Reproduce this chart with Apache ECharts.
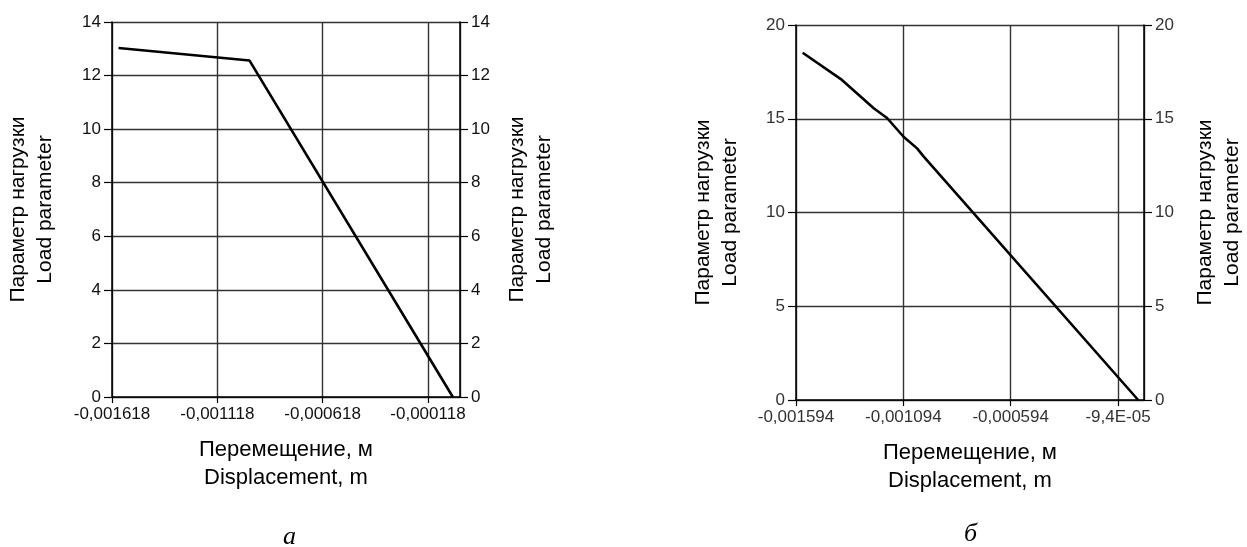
<!DOCTYPE html>
<html>
<head>
<meta charset="utf-8">
<script src="https://cdn.jsdelivr.net/npm/echarts@6/dist/echarts.min.js"></script>
<style>
html,body{margin:0;padding:0;background:#fff;}
#c{width:1247px;height:547px;}
</style>
</head>
<body>
<div id="c"></div>
<script>
// ---- data (displacement in metres, load parameter) ----
const dispA = [-0.001587, -0.000965, 0.0];
const loadA = [13.03, 12.56, 0.0];
const dispB = [-0.001563, -0.001380, -0.001232, -0.001170, -0.001093, -0.001030, -0.000999, 0.0];
const loadB = [18.52, 17.07, 15.56, 15.04, 14.04, 13.42, 12.98, 0.0];

// x ticks (in micrometres for the axis scale) and their labels
const xTickValsA = [-1618, -1118, -618, -118];
const xTickLabelsA = ['-0,001618', '-0,001118', '-0,000618', '-0,000118'];
const xTickValsB = [-1594, -1094, -594, -94];
const xTickLabelsB = ['-0,001594', '-0,001094', '-0,000594', '-9,4E-05'];

const yTicksA = [0, 2, 4, 6, 8, 10, 12, 14];
const yTicksB = [0, 5, 10, 15, 20];

const xName = 'Перемещение, м\nDisplacement, m';
const yName = 'Параметр нагрузки\nLoad parameter';
const panelLabels = ['а', 'б'];

const FONT = '"Liberation Sans", Arial, sans-serif';

function toSeries(xs, ys) {
  return xs.map((x, i) => [Math.round(x * 1e6 * 1000) / 1000, ys[i]]);
}
function fmt(vals, labels) {
  return function (v) {
    for (let i = 0; i < vals.length; i++) if (Math.abs(v - vals[i]) < 1e-6) return labels[i];
    return '';
  };
}

function xAxisCfg(grid, min, max, vals, labels, color) {
  return {
    type: 'value', gridIndex: grid, min: min, max: max, interval: 500,
    axisLine: {show: true, onZero: false, lineStyle: {color: '#000', width: 1.5}},
    axisTick: {show: true, length: 6, lineStyle: {color: '#000', width: 1.2}},
    axisLabel: {show: true, margin: 9, color: color, fontFamily: FONT, fontSize: 17,
      showMaxLabel: false, formatter: fmt(vals, labels)},
    splitLine: {show: true, lineStyle: {color: '#333', width: 1.4}},
    name: xName, nameLocation: 'middle', nameGap: 39,
    nameTextStyle: {color: '#000', fontFamily: FONT, fontSize: 22, lineHeight: 28}
  };
}
function yAxisCfg(grid, pos, max, interval, color, gap, split) {
  return {
    type: 'value', gridIndex: grid, position: pos, min: 0, max: max, interval: interval,
    axisLine: {show: true, onZero: false, lineStyle: {color: '#000', width: 1.5}},
    axisTick: {show: true, length: 8, lineStyle: {color: '#000', width: 1.2}},
    axisLabel: {show: true, margin: 11, color: color, fontFamily: FONT, fontSize: 17},
    splitLine: {show: split, lineStyle: {color: '#333', width: 1.4}},
    name: yName, nameLocation: 'middle', nameRotate: 90, nameGap: gap,
    nameTextStyle: {color: '#000', fontFamily: FONT, fontSize: 21, lineHeight: 27}
  };
}

const chart = echarts.init(document.getElementById('c'), null, {renderer: 'canvas'});
chart.setOption({
  animation: false,
  backgroundColor: '#fff',
  grid: [
    {left: 112, right: 1247 - 460, top: 22, bottom: 547 - 397},
    {left: 796, right: 1247 - 1144, top: 25, bottom: 547 - 400}
  ],
  xAxis: [
    xAxisCfg(0, -1618, 34, xTickValsA, xTickLabelsA, '#111'),
    xAxisCfg(1, -1594, 27, xTickValsB, xTickLabelsB, '#333')
  ],
  yAxis: [
    yAxisCfg(0, 'left', 14, 2, '#111', 53, true),
    yAxisCfg(0, 'right', 14, 2, '#111', 44, false),
    yAxisCfg(1, 'left', 20, 5, '#333', 52, true),
    yAxisCfg(1, 'right', 20, 5, '#333', 48, false)
  ],
  graphic: [
    {type: 'text', left: 283, top: 524, style: {text: panelLabels[0], font: 'italic 26px "Liberation Serif", "Times New Roman", serif', fill: '#000'}},
    {type: 'text', left: 964, top: 521, style: {text: panelLabels[1], font: 'italic 26px "Liberation Serif", "Times New Roman", serif', fill: '#000'}}
  ],
  series: [
    {type: 'line', xAxisIndex: 0, yAxisIndex: 0, data: toSeries(dispA, loadA), symbol: 'none',
      lineStyle: {color: '#000', width: 2.6}},
    {type: 'line', xAxisIndex: 1, yAxisIndex: 2, data: toSeries(dispB, loadB), symbol: 'none',
      lineStyle: {color: '#000', width: 2.6}}
  ]
});
</script>
</body>
</html>
